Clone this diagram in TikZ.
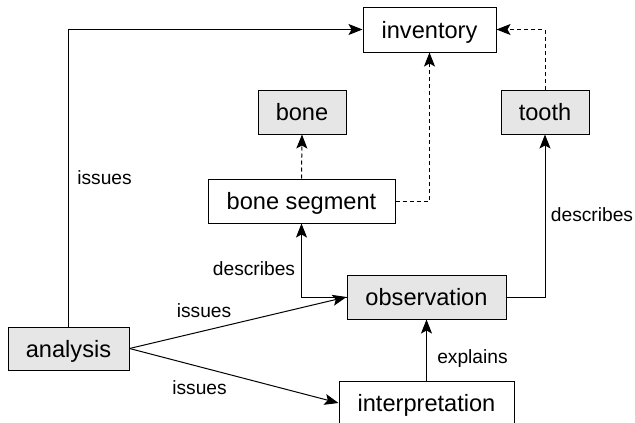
\documentclass[tikz,border=0pt]{standalone}
\usepackage{fontspec}
\setmainfont{Liberation Sans}
\usetikzlibrary{arrows.meta}
\definecolor{boxgray}{HTML}{E6E6E6}
\tikzset{
  box/.style={draw=black, line width=1pt, inner sep=0pt, text height=17.5pt, text depth=0pt, font=\fontsize{23.6}{28}\selectfont},
  graybox/.style={box, fill=boxgray},
  whitebox/.style={box, fill=white},
  lbl/.style={inner sep=0pt, font=\fontsize{19.2}{23}\selectfont},
  conn/.style={line width=1pt, -{Stealth[length=14pt, width=11pt, inset=3pt]}},
  dconn/.style={conn, dash pattern=on 4pt off 3pt},
}
\begin{document}
\begin{tikzpicture}[x=1pt, y=-1pt]
\useasboundingbox (0,0) rectangle (635,423);
\clip (0,0) rectangle (635,423);
\node[whitebox, minimum width=133pt, minimum height=45pt] (inventory) at (429.5,29.5) {inventory};
\node[graybox, minimum width=88pt, minimum height=44pt] (bone) at (302,112) {bone};
\node[graybox, minimum width=88pt, minimum height=44pt] (tooth) at (545,112) {tooth};
\node[whitebox, minimum width=187pt, minimum height=44pt] (bs) at (301.5,201) {bone segment};
\node[graybox, minimum width=159pt, minimum height=44pt] (obs) at (426.5,297) {observation};
\node[graybox, minimum width=121pt, minimum height=43pt] (analysis) at (68.5,348.5) {analysis};
\node[whitebox, minimum width=175pt, minimum height=44pt] (interp) at (426.5,403) {interpretation};

\draw[conn] (analysis.north) -- (analysis.north |- inventory.west) -- (inventory.west);
\draw[dconn] (bs.north) -- (bone.south);
\draw[dconn] (bs.east) -- (inventory.south |- bs.east) -- (inventory.south);
\draw[dconn] (tooth.north) -- (tooth.north |- inventory.east) -- (inventory.east);
\draw[conn] (obs.west) -- (bs.south |- obs.west) -- (bs.south);
\draw[conn] (obs.east) -- (tooth.south |- obs.east) -- (tooth.south);
\draw[conn] (analysis.east) -- (obs.west);
\draw[conn] (analysis.east) -- (interp.west);
\draw[conn] (interp.north) -- (obs.south);

\node[lbl] (l1) at (104.5,178) {issues};
\node[lbl] (l2) at (204,311) {issues};
\node[lbl] (l3) at (199.5,387.5) {issues};
\node[lbl] (l4) at (254,269) {describes};
\node[lbl] (l5) at (592,215) {describes};
\node[lbl] (l6) at (472.5,359) {explains};
\end{tikzpicture}
\end{document}
